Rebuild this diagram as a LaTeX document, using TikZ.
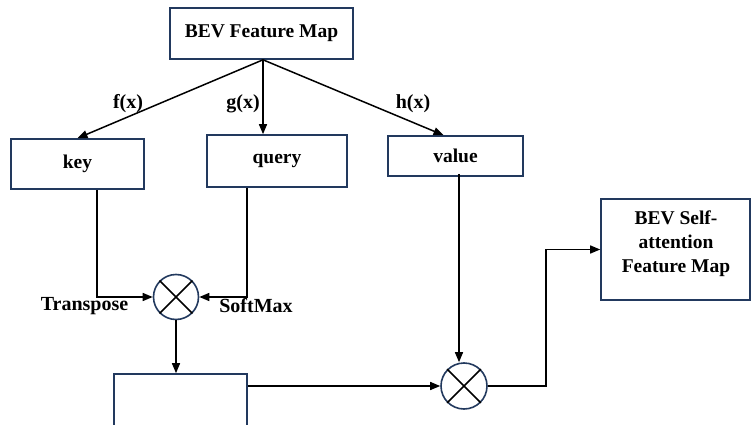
\documentclass[tikz,border=0pt]{standalone}
\usepackage{fontspec}
\setmainfont{Liberation Serif}
\usetikzlibrary{arrows.meta}
\definecolor{boxblue}{HTML}{22395E}
\tikzset{
  box/.style={draw=boxblue, line width=1.6pt, rectangle, inner sep=0pt, align=center,
    font=\fontsize{19.5}{24}\selectfont\bfseries},
  mul/.style={draw=boxblue, line width=1.6pt, circle, inner sep=0pt, minimum size=45pt},
  arr/.style={line width=1.5pt, -{Triangle[length=10pt,width=8pt]}},
  lbl/.style={font=\fontsize{20}{24}\selectfont\bfseries, inner sep=0pt}
}
\begin{document}
\begin{tikzpicture}[x=1pt,y=-1pt]
\useasboundingbox (0,0) rectangle (752,425);
\node[box, minimum width=183pt, minimum height=51pt] (bev) at (261.5,33.5) {BEV Feature Map};
\node[box, minimum width=133pt, minimum height=50pt] (key) at (77.5,164) {key};
\node[box, minimum width=140pt, minimum height=52pt] (query) at (277,161) {query};
\node[box, minimum width=135pt, minimum height=40pt] (value) at (455.5,156) {value};
\node[box, minimum width=149pt, minimum height=101pt] (self) at (675.5,249.5) {};
\node[lbl, align=center, font=\fontsize{19.5}{24}\selectfont\bfseries] (selftext) at (676,244) {BEV Self-\\attention\\Feature Map};
\node[box, minimum width=133pt, minimum height=54pt] (low) at (180.5,401) {};
\node[mul] (c1) at (176,297) {};
\node[mul, minimum size=46pt] (c2) at (464,386) {};
\draw[line width=1.5pt] (c1.north west) -- (c1.south east) (c1.north east) -- (c1.south west);
\draw[line width=1.5pt] (c2.north west) -- (c2.south east) (c2.north east) -- (c2.south west);

\draw[arr] ([xshift=1.5pt]bev.south) -- (key.north);
\draw[arr] ([xshift=1.5pt]bev.south) -- ([xshift=1.5pt]bev.south |- query.north);
\draw[arr] ([xshift=1.5pt]bev.south) -- ([xshift=-12pt]value.north);
\node[lbl] (fx) at (128,104) {f(x)};
\node[lbl] (gx) at (243,104) {g(x)};
\node[lbl] (hx) at (413,104) {h(x)};

\draw[arr] ([xshift=19.5pt]key.south) |- (c1.west);
\draw[arr] ([xshift=-30pt]query.south) |- (c1.east);
\node[lbl] (tr) at (84.5,306) {Transpose};
\node[lbl] (sm) at (256,306) {SoftMax};

\draw[arr] (c1.south) -- (c1.south |- low.north);
\draw[arr] (low.east |- c2.west) -- (c2.west);
\draw[arr] ([xshift=3.5pt,yshift=3pt]value.south) -- ([xshift=3.5pt]value.south |- c2.north);
\draw[arr] (c2.east) -- ++(58,0) |- (self.west);
\end{tikzpicture}
\end{document}
